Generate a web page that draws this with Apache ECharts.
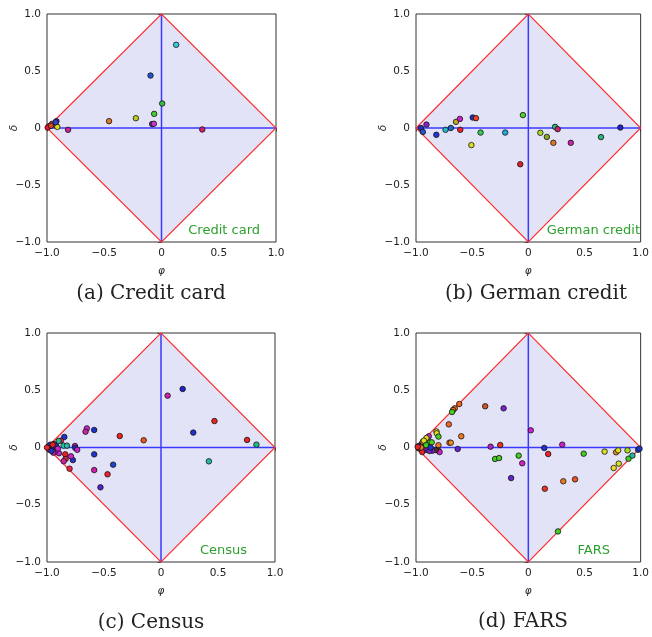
<!DOCTYPE html>
<html><head><meta charset="utf-8">
<script src="https://cdn.jsdelivr.net/npm/echarts@6/dist/echarts.min.js"></script>
<style>html,body{margin:0;padding:0;background:#fff;}#c{width:652px;height:637px;}</style>
</head><body><div id="c"></div>
<script>
// ---- data ----
const tickValues = [-1.0, -0.5, 0, 0.5, 1.0];
const tickLabels = ['\u22121.0', '\u22120.5', '0', '0.5', '1.0'];
const diamond = [[-1, 0], [0, 1], [1, 0], [0, -1]];
const panelNames = ['Credit card', 'German credit', 'Census', 'FARS'];
const captions = ['(a) Credit card', '(b) German credit', '(c) Census', '(d) FARS'];

const phiA = [0.128, -0.096, 0.006, -0.064, -0.224, -0.458, -0.082, -0.067, 0.356, -0.816, -0.918, -0.936, -0.91, -0.98, -0.956, -0.994, -0.965, -0.925];
const deltaA = [0.73, 0.46, 0.215, 0.124, 0.086, 0.06, 0.034, 0.037, -0.013, -0.016, 0.06, 0.034, 0.01, 0.016, 0.037, 0.004, 0.02, 0.05];

const phiB = [-0.956, -0.939, -0.907, -0.819, -0.737, -0.69, -0.644, -0.609, -0.606, -0.495, -0.466, -0.425, -0.507, -0.206, -0.048, -0.072, 0.107, 0.165, 0.238, 0.261, 0.223, 0.378, 0.647, 0.819];
const deltaB = [0, -0.034, 0.03, -0.06, -0.016, 0, 0.054, 0.08, -0.016, 0.092, 0.086, -0.04, -0.15, -0.04, 0.113, -0.318, -0.042, -0.078, 0.01, -0.01, -0.13, -0.13, -0.08, 0.004];

const phiC = [0.19, 0.058, 0.469, 0.283, 0.755, 0.837, 0.42, -0.152, -0.362, -0.586, -0.65, -0.662, -0.586, -0.586, -0.469, -0.42, -0.531, -0.848, -0.878, -0.898, -0.854, -0.825, -0.755, -0.752, -0.735, -0.84, -0.837, -0.854, -0.773, -0.79, -0.802, -0.895, -0.985, -0.97, -0.955, -0.94, -0.962, -0.98, -1.0, -0.93, -0.918, -0.905, -0.945, -0.95, -0.96];
const deltaC = [0.511, 0.453, 0.231, 0.13, 0.066, 0.025, -0.121, 0.063, 0.1, 0.153, 0.167, 0.138, -0.06, -0.197, -0.234, -0.15, -0.348, 0.092, 0.06, 0.057, 0.016, 0.016, 0.013, -0.004, -0.02, -0.06, -0.1, -0.12, -0.11, -0.077, -0.185, -0.05, 0.012, 0.025, 0.01, 0.03, -0.012, -0.02, 0.0, -0.035, 0.01, -0.01, -0.045, 0.025, -0.03];

const phiD = [-0.615, -0.655, -0.67, -0.679, -0.384, -0.22, -0.708, -0.597, -0.702, -0.69, -0.629, -0.818, -0.815, -0.8, -0.886, -0.907, -0.877, -0.86, -0.8, -0.8, -0.79, -0.825, -0.854, -0.336, -0.25, -0.296, -0.26, -0.086, -0.054, -0.153, 0.022, 0.142, 0.177, 0.147, 0.302, 0.311, 0.416, 0.493, 0.679, 0.264, 0.781, 0.8, 0.883, 0.76, 0.805, 0.892, 0.927, 0.977, 0.99, -0.95, -0.96, -0.94, -0.93, -0.97, -0.98, -0.92, -0.9, -0.945, -0.955, -0.985, -0.91, -0.88, -0.87];
const deltaD = [0.38, 0.342, 0.328, 0.31, 0.36, 0.342, 0.202, 0.098, 0.042, 0.042, -0.013, 0.14, 0.124, 0.095, 0.098, 0.083, 0.045, 0.045, 0.02, -0.028, -0.04, -0.022, -0.028, 0.007, 0.022, -0.1, -0.092, -0.071, -0.138, -0.267, 0.15, -0.004, -0.057, -0.36, 0.025, -0.295, -0.278, -0.054, -0.036, -0.733, -0.042, -0.025, -0.025, -0.179, -0.141, -0.098, -0.071, -0.02, -0.01, 0.03, 0.02, 0.05, 0.06, -0.01, 0.01, -0.02, -0.02, -0.04, 0.0, 0.005, 0.02, -0.03, 0.0];

// ---- styles ----
const colorsA = ['#33ccdd','#2255cc','#33bb44','#44cc33','#bbcc22','#dd7722','#6633aa','#cc33cc','#cc2277','#cc2299','#2233dd','#22bb88','#dddd22','#ee2222','#dd3333','#ee1133','#dd4422','#3344cc'];
const colorsB = ['#2233cc','#2255cc','#8822cc','#2233dd','#22bbcc','#2266cc','#bbaa22','#cc22cc','#ee2233','#2233cc','#ee4422','#33cc55','#dddd22','#22aadd','#55cc33','#dd2222','#aadd22','#88aa22','#22bb88','#cc2266','#dd7722','#cc22aa','#22bb77','#2222cc'];
const colorsC = ['#2222cc','#cc22aa','#ee2222','#2233cc','#ee2222','#22bb88','#22bbaa','#ee5522','#ee2222','#2233cc','#cc22cc','#cc22aa','#2233cc','#cc22aa','#ee2233','#2244cc','#5522cc','#2233cc','#ee2244','#22bb99','#22ccaa','#22bbaa','#cc22cc','#2233cc','#cc22cc','#ee2222','#dd2244','#cc22aa','#2233cc','#cc22cc','#ee2244','#cc22cc','#ee2222','#2233cc','#cc22cc','#ee2222','#2233cc','#ee2222','#ee2233','#cc22cc','#2233cc','#cc22cc','#cc22aa','#ee2222','#2233cc'];
const colorsD = ['#ee6622','#ee6622','#ee7722','#44cc22','#cc5522','#7722cc','#ee6622','#ee7722','#ee7722','#ee8822','#6622cc','#dddd22','#dddd22','#44cc22','#cc22cc','#dddd22','#44cc22','#55cc22','#ee7722','#7722cc','#cc22cc','#553311','#7722cc','#aa22cc','#ee3322','#44cc22','#44cc22','#44cc22','#cc22cc','#6622cc','#cc22cc','#2233cc','#ee2222','#ee3322','#cc22cc','#ee7722','#ee5522','#44cc22','#dddd22','#44cc22','#ee8822','#dddd22','#aadd22','#eedd22','#dddd22','#44cc22','#22bb99','#2244cc','#2233cc','#ee2222','#7722cc','#ee7722','#dddd22','#992222','#2233cc','#cc22cc','#7722cc','#ee2222','#ee7722','#ee2222','#44cc22','#7722cc','#2233cc'];

const phis = [phiA, phiB, phiC, phiD];
const deltas = [deltaA, deltaB, deltaC, deltaD];
const colors = [colorsA, colorsB, colorsC, colorsD];

const grids = [
  {left: 47, top: 14, width: 229, height: 228},
  {left: 416, top: 14, width: 228, height: 228},
  {left: 47, top: 333, width: 228, height: 229},
  {left: 416, top: 333, width: 228, height: 229}
];
const labelPos = [[260, 231], [640, 231], [247, 551], [610, 551]];
const captionPos = [[151, 294], [536, 294], [151, 623], [523, 622]];

const fmt = v => { const i = tickValues.indexOf(+v.toFixed(2)); return i >= 0 ? tickLabels[i] : ''; };

const axisCommon = {
  type: 'value', min: -1, max: 1, interval: 0.5,
  axisLine: {show: false},
  axisTick: {show: true, length: 3.5, lineStyle: {color: '#333', width: 0.8}},
  splitLine: {show: false},
  axisLabel: {fontFamily: 'DejaVu Sans', fontSize: 10.5, color: '#222', formatter: fmt}
};

const option = {
  animation: false,
  backgroundColor: '#fff',
  grid: grids.map(g => Object.assign({show: true, borderColor: '#333', borderWidth: 1, backgroundColor: '#fff'}, g)),
  xAxis: grids.map((g, i) => Object.assign({}, axisCommon, {
    gridIndex: i, name: '\u03c6', nameLocation: 'middle', nameGap: 24, nameMoveOverlap: false,
    nameTextStyle: {fontFamily: 'DejaVu Sans', fontSize: 10.5, color: '#222', fontStyle: 'italic'},
    axisLabel: Object.assign({}, axisCommon.axisLabel, {margin: 6})
  })),
  yAxis: grids.map((g, i) => Object.assign({}, axisCommon, {
    gridIndex: i, name: '\u03b4', nameLocation: 'middle', nameGap: 27, nameRotate: 90, nameMoveOverlap: false,
    nameTextStyle: {fontFamily: 'DejaVu Sans', fontSize: 10.5, color: '#222', fontStyle: 'italic'},
    axisLabel: Object.assign({}, axisCommon.axisLabel, {margin: 6})
  })),
  series: [],
  graphic: []
};

for (let i = 0; i < 4; i++) {
  option.series.push({
    type: 'custom', xAxisIndex: i, yAxisIndex: i, silent: true, z: 1,
    data: diamond,
    renderItem: function (params, api) {
      if (params.dataIndex !== 0) return null;
      const pts = diamond.map(p => api.coord(p));
      const l = api.coord([-1, 0]), r = api.coord([1, 0]);
      const t = api.coord([0, 1]), b = api.coord([0, -1]);
      return {type: 'group', children: [
        {type: 'polygon', shape: {points: pts}, style: {fill: '#e3e3f8', stroke: null}},
        {type: 'line', shape: {x1: l[0], y1: l[1], x2: r[0], y2: r[1]}, style: {stroke: '#3a3aff', lineWidth: 1.5}},
        {type: 'line', shape: {x1: t[0], y1: t[1], x2: b[0], y2: b[1]}, style: {stroke: '#3a3aff', lineWidth: 1.5}},
        {type: 'polygon', shape: {points: pts}, style: {fill: null, stroke: '#ff2a2a', lineWidth: 1.1}}
      ]};
    }
  });
  const cols = colors[i];
  option.series.push({
    type: 'scatter', xAxisIndex: i, yAxisIndex: i, z: 3,
    symbolSize: 5.5,
    data: phis[i].map((p, k) => [p, deltas[i][k]]),
    itemStyle: {color: p => cols[p.dataIndex % cols.length], borderColor: '#111', borderWidth: 0.8, opacity: 1}
  });
  option.graphic.push({
    type: 'text', x: labelPos[i][0], y: labelPos[i][1], z: 10,
    style: {text: panelNames[i], fill: '#2ca02c', font: '13px "DejaVu Sans"', textAlign: 'right', textVerticalAlign: 'middle'}
  });
  option.graphic.push({
    type: 'text', x: captionPos[i][0], y: captionPos[i][1], z: 10,
    style: {text: captions[i], fill: '#222', font: '20px "DejaVu Serif"', textAlign: 'center', textVerticalAlign: 'middle'}
  });
}

const chart = echarts.init(document.getElementById('c'), null, {renderer: 'canvas'});
chart.setOption(option);
</script>
</body></html>
